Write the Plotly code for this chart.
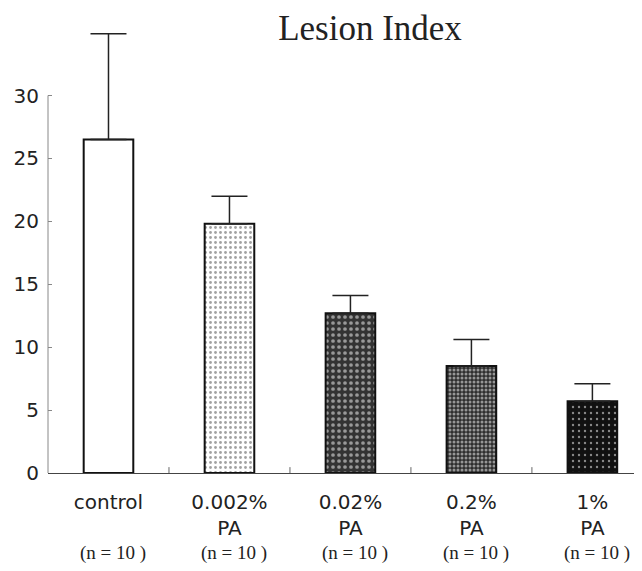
import plotly.graph_objects as go

categories = ["control", "0.002%<br>PA", "0.02%<br>PA", "0.2%<br>PA", "1%<br>PA"]
means = [26.5, 19.8, 12.7, 8.5, 5.7]
sem = [8.4, 2.2, 1.4, 2.1, 1.4]
n_labels = ["(n = 10 )", "(n = 10 )", "(n = 10 )", "(n = 10 )", "(n = 10 )"]
y_ticks = [0, 5, 10, 15, 20, 25, 30]

bar_colors = ["white", "white", "#333333", "#2e2e2e", "#111111"]
dot_colors = ["black", "#111111", "#f5f5f5", "#a8a8a8", "#c8c8c8"]
dot_shapes = ["", ".", ".", ".", "."]
dot_sizes = [8, 5, 6, 4, 6]
dot_solidity = [0.3, 0.25, 0.3, 0.45, 0.12]

fig = go.Figure()
fig.add_trace(go.Bar(
    x=list(range(len(categories))),
    y=means,
    width=0.41,
    marker=dict(color=bar_colors,
                line=dict(color="#111", width=2),
                pattern=dict(shape=dot_shapes, fgcolor=dot_colors, size=dot_sizes,
                             solidity=dot_solidity, fillmode="overlay")),
    error_y=dict(type="data", array=sem, arrayminus=[0]*len(sem), symmetric=False,
                 color="#222", thickness=1.5, width=18),
    showlegend=False,
))

for i, t in enumerate(n_labels):
    fig.add_annotation(x=i + 0.04, y=-0.176, xref="x", yref="paper", text=t, showarrow=False,
                       font=dict(family="Liberation Serif", size=19, color="#222"),
                       yanchor="middle", xanchor="center")

# y axis line from 0 to 30 only
fig.add_shape(type="line", xref="paper", yref="y", x0=0, x1=0, y0=0, y1=30,
              line=dict(color="#888", width=1))

fig.update_layout(
    width=634, height=563,
    margin=dict(l=40, r=0, t=12, b=98),
    plot_bgcolor="white", paper_bgcolor="white",
    title=dict(text="Lesion Index", x=0.571, y=0.9645, xanchor="center", yanchor="middle",
               font=dict(family="Liberation Serif", size=35, color="#222")),
    xaxis=dict(range=[-0.5, 4.41], tickvals=list(range(len(categories))), ticktext=categories,
               showline=True, linecolor="#444", linewidth=1, ticks="", showgrid=False,
               zeroline=False, tickfont=dict(family="DejaVu Sans", size=20, color="#222"),
               ticklabelstandoff=11, fixedrange=True),
    yaxis=dict(range=[0, 36], tickvals=y_ticks, ticks="inside", ticklen=4, tickcolor="#888",
               showline=False, showgrid=False, zeroline=False,
               tickfont=dict(family="DejaVu Sans", size=20, color="#222"),
               ticklabelstandoff=8),
)

# category boundary tick marks on x axis
for b in [0.5, 1.5, 2.5, 3.5]:
    fig.add_shape(type="line", xref="x", yref="paper", x0=b, x1=b, y0=0, y1=0.013,
                  line=dict(color="#666", width=1))

fig.write_html("out.html")
